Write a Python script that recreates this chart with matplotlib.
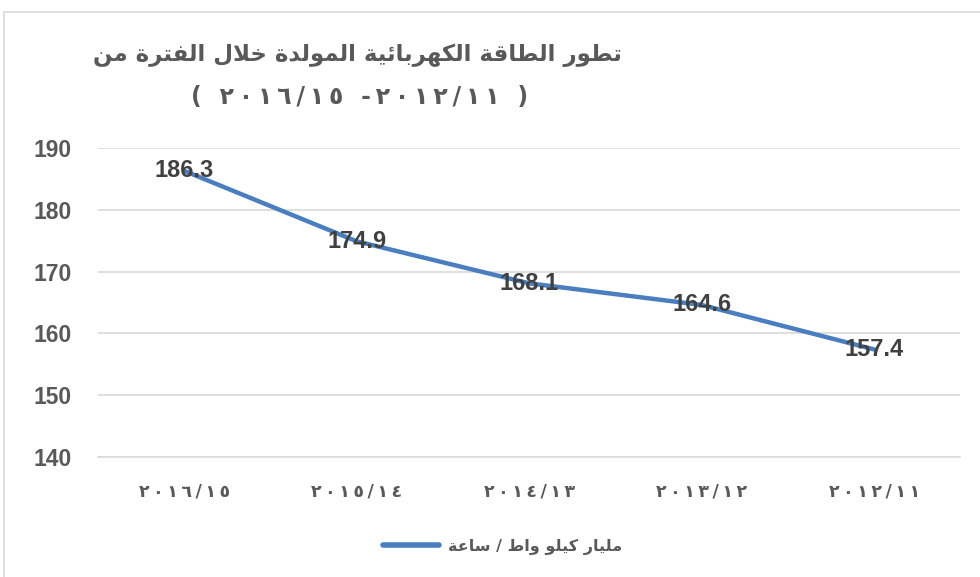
import matplotlib
matplotlib.use("Agg")
import matplotlib.pyplot as plt
from matplotlib.lines import Line2D

# data
years = ["\u0662\u0660\u0661\u0666/\u0661\u0665", "\u0662\u0660\u0661\u0665/\u0661\u0664",
         "\u0662\u0660\u0661\u0664/\u0661\u0663", "\u0662\u0660\u0661\u0663/\u0661\u0662",
         "\u0662\u0660\u0661\u0662/\u0661\u0661"]
energy = [186.3, 174.9, 168.1, 164.6, 157.4]
yticks = [140, 150, 160, 170, 180, 190]

title_1 = "تطور الطاقة الكهربائية المولدة خلال الفترة من"
# second title line, written in visual (left to right) order
title_2 = "( " + years[0] + " -" + years[-1] + " )"
series_name = "مليار كيلو واط / ساعة"

# matplotlib has no arabic shaping, so map letters to presentation forms by hand
# letter -> (isolated code point, joins to the following letter)
FORMS = {
    'ء': (0xFE80, None), 'ئ': (0xFE89, True), 'ا': (0xFE8D, False),
    'ب': (0xFE8F, True), 'ة': (0xFE93, False), 'ت': (0xFE95, True),
    'ث': (0xFE99, True), 'ج': (0xFE9D, True), 'ح': (0xFEA1, True),
    'خ': (0xFEA5, True), 'د': (0xFEA9, False), 'ذ': (0xFEAB, False),
    'ر': (0xFEAD, False), 'ز': (0xFEAF, False), 'س': (0xFEB1, True),
    'ش': (0xFEB5, True), 'ص': (0xFEB9, True), 'ض': (0xFEBD, True),
    'ط': (0xFEC1, True), 'ظ': (0xFEC5, True), 'ع': (0xFEC9, True),
    'غ': (0xFECD, True), 'ف': (0xFED1, True), 'ق': (0xFED5, True),
    'ك': (0xFED9, True), 'ل': (0xFEDD, True), 'م': (0xFEE1, True),
    'ن': (0xFEE5, True), 'ه': (0xFEE9, True), 'و': (0xFEED, False),
    'ي': (0xFEF1, True),
}


def shape(text):
    out = []
    i = 0
    n = len(text)
    while i < n:
        ch = text[i]
        if ch not in FORMS:
            out.append(ch)
            i += 1
            continue
        prev = text[i - 1] if i > 0 else ''
        prev_joins = prev in FORMS and FORMS[prev][1] is True
        if ch == 'ل' and i + 1 < n and text[i + 1] == 'ا':
            out.append(chr(0xFEFC if prev_joins else 0xFEFB))
            i += 2
            continue
        base, dual = FORMS[ch]
        nxt = text[i + 1] if i + 1 < n else ''
        next_joins = bool(dual) and nxt in FORMS
        if dual is None:
            form = 0
        elif prev_joins and next_joins:
            form = 3
        elif prev_joins:
            form = 1
        elif next_joins:
            form = 2
        else:
            form = 0
        out.append(chr(base + form))
        i += 1
    return ''.join(out[::-1])


def spaced(s, gap='\u2009'):
    # the original font sets arabic-indic digits wide apart
    return gap.join(s)


grey = '#595959'
blue = '#4A7EBF'
grid = '#D9D9D9'
latin = ['Liberation Sans', 'DejaVu Sans']
arab = ['DejaVu Sans']

fig = plt.figure(figsize=(9.8, 5.77), dpi=100)
ax = fig.add_axes([0.1, 0.208, 0.88, 0.5355])

x = list(range(len(years)))
ax.plot(x, energy, color=blue, lw=3.2, solid_capstyle='round', zorder=2)
for xi, v in zip(x, energy):
    ax.text(xi, v, f"{v:.1f}", ha='center', va='center', fontsize=17,
            fontweight='bold', color='#404040', family=latin, zorder=3)

ax.set_xlim(-0.5, len(years) - 0.5)
ax.set_ylim(140, 190)
ax.set_yticks(yticks)
ax.set_yticklabels([str(t) for t in yticks], fontsize=16.5, fontweight='bold',
                   color=grey, family=latin)
ax.set_xticks(x)
ax.set_xticklabels([spaced(y) for y in years], fontsize=12.5, fontweight='bold',
                   color=grey, family=arab)
ax.tick_params(length=0)
ax.tick_params(axis='y', pad=19)
ax.tick_params(axis='x', pad=18.5)
ax.grid(axis='y', color=grid, lw=1.2)
ax.set_axisbelow(True)
for s in ['top', 'right', 'left']:
    ax.spines[s].set_visible(False)
ax.spines['bottom'].set_color(grid)
ax.spines['bottom'].set_linewidth(1.2)

# title placed left of centre as in the original
fig.text(0.365, 0.905, shape(title_1), ha='center', va='center', fontsize=16.5,
         fontweight='bold', color=grey, family=arab)
fig.text(0.367, 0.832, spaced(title_2), ha='center', va='center', fontsize=17,
         fontweight='bold', color=grey, family=arab)

handle = Line2D([0], [0], color=blue, lw=4, solid_capstyle='round')
fig.legend([handle], [shape(series_name)], loc='center', bbox_to_anchor=(0.513, 0.052),
           frameon=False, handlelength=3.5, handletextpad=0.6,
           prop={'family': arab, 'weight': 'bold', 'size': 11.5}, labelcolor=grey)

# chart frame, cut off at right and bottom
fig.add_artist(Line2D([0.004, 1.0], [1 - 12 / 577, 1 - 12 / 577], color=grid, lw=1.2,
                      transform=fig.transFigure))
fig.add_artist(Line2D([0.004, 0.004], [1 - 12 / 577, 0.0], color=grid, lw=1.2,
                      transform=fig.transFigure))

fig.savefig('out.png', dpi=100, facecolor='white')
